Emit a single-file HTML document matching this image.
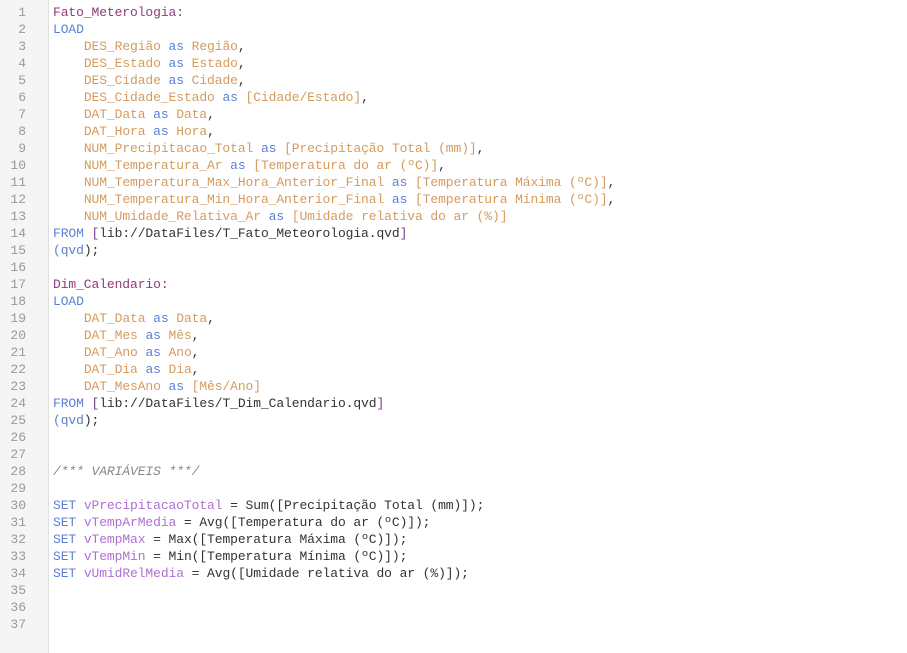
<!DOCTYPE html>
<html><head><meta charset="utf-8"><style>
body{margin:0;width:907px;height:653px;background:#fff;overflow:hidden;position:relative;font-family:"Liberation Mono",monospace;font-size:13px}
#g{position:absolute;left:0;top:0;width:48px;height:653px;background:#f5f5f5;border-right:1px solid #e0e0e0}
.ln{position:absolute;left:0;width:26px;text-align:right;color:#999;line-height:17px}
.cl{position:absolute;left:53px;line-height:17px;white-space:pre;color:#333;font-size:13px;letter-spacing:-0.1px}
.t{color:#8e3b7d}.k{color:#5b7fd6}.f{color:#d59b5e}.c{color:#888;font-style:italic}.v{color:#b06fd3}.p{color:#7a3d8a}
</style></head><body><div id="g"></div>
<div id="c"></div>
<script>
var L=[
'<span class="t">Fato_Meterologia:</span>',
'<span class="k">LOAD</span>',
'    <span class="f">DES_Região</span> <span class="k">as</span> <span class="f">Região</span>,',
'    <span class="f">DES_Estado</span> <span class="k">as</span> <span class="f">Estado</span>,',
'    <span class="f">DES_Cidade</span> <span class="k">as</span> <span class="f">Cidade</span>,',
'    <span class="f">DES_Cidade_Estado</span> <span class="k">as</span> <span class="f">[Cidade/Estado]</span>,',
'    <span class="f">DAT_Data</span> <span class="k">as</span> <span class="f">Data</span>,',
'    <span class="f">DAT_Hora</span> <span class="k">as</span> <span class="f">Hora</span>,',
'    <span class="f">NUM_Precipitacao_Total</span> <span class="k">as</span> <span class="f">[Precipitação Total (mm)]</span>,',
'    <span class="f">NUM_Temperatura_Ar</span> <span class="k">as</span> <span class="f">[Temperatura do ar (ºC)]</span>,',
'    <span class="f">NUM_Temperatura_Max_Hora_Anterior_Final</span> <span class="k">as</span> <span class="f">[Temperatura Máxima (ºC)]</span>,',
'    <span class="f">NUM_Temperatura_Min_Hora_Anterior_Final</span> <span class="k">as</span> <span class="f">[Temperatura Mínima (ºC)]</span>,',
'    <span class="f">NUM_Umidade_Relativa_Ar</span> <span class="k">as</span> <span class="f">[Umidade relativa do ar (%)]</span>',
'<span class="k">FROM</span> <span class="p">[</span>lib://DataFiles/T_Fato_Meteorologia.qvd<span class="p">]</span>',
'<span class="k">(qvd</span>);',
'',
'<span class="t">Dim_Calendario:</span>',
'<span class="k">LOAD</span>',
'    <span class="f">DAT_Data</span> <span class="k">as</span> <span class="f">Data</span>,',
'    <span class="f">DAT_Mes</span> <span class="k">as</span> <span class="f">Mês</span>,',
'    <span class="f">DAT_Ano</span> <span class="k">as</span> <span class="f">Ano</span>,',
'    <span class="f">DAT_Dia</span> <span class="k">as</span> <span class="f">Dia</span>,',
'    <span class="f">DAT_MesAno</span> <span class="k">as</span> <span class="f">[Mês/Ano]</span>',
'<span class="k">FROM</span> <span class="p">[</span>lib://DataFiles/T_Dim_Calendario.qvd<span class="p">]</span>',
'<span class="k">(qvd</span>);',
'','',
'<span class="c">/*** VARIÁVEIS ***/</span>',
'',
'<span class="k">SET</span> <span class="v">vPrecipitacaoTotal</span> = Sum([Precipitação Total (mm)]);',
'<span class="k">SET</span> <span class="v">vTempArMedia</span> = Avg([Temperatura do ar (ºC)]);',
'<span class="k">SET</span> <span class="v">vTempMax</span> = Max([Temperatura Máxima (ºC)]);',
'<span class="k">SET</span> <span class="v">vTempMin</span> = Min([Temperatura Mínima (ºC)]);',
'<span class="k">SET</span> <span class="v">vUmidRelMedia</span> = Avg([Umidade relativa do ar (%)]);',
'','',''];
var h='';
for(var i=0;i<37;i++){var y=4+i*17;h+='<div class="ln" style="top:'+y+'px">'+(i+1)+'</div><div class="cl" style="top:'+y+'px">'+(L[i]||'')+'</div>';}
document.getElementById('c').innerHTML=h;
</script>
</body></html>
